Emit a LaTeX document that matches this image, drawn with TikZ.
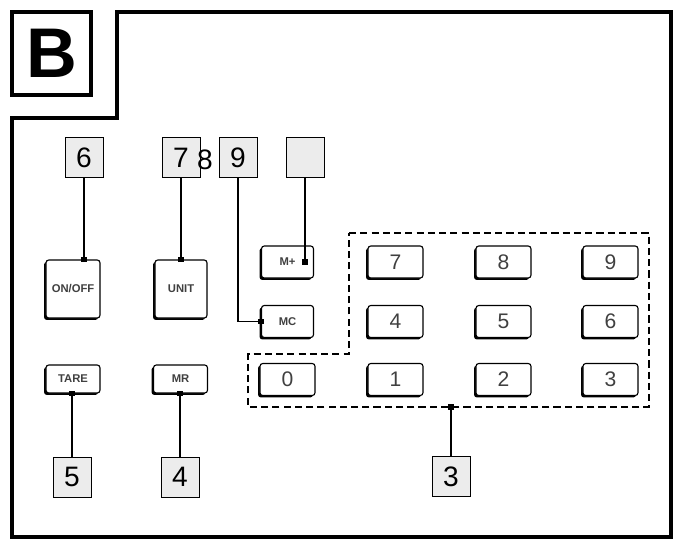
\documentclass[tikz,border=0pt]{standalone}
\usepackage{fontspec}
\setmainfont{Liberation Sans}
\usetikzlibrary{arrows.meta,shadows}

\begin{document}
\begin{tikzpicture}[x=0.025cm, y=-0.025cm,
  every node/.style={inner sep=0pt, font=\fontsize{8}{8}\selectfont\bfseries},
  lab/.style={draw, fill=gray!15, minimum width=0.95cm, minimum height=1cm, font=\fontsize{20}{20}\selectfont},
  btn/.style={draw, thick, fill=white, rounded corners=2pt, text=black!75,
    general shadow={fill=black, shadow xshift=-1.4pt, shadow yshift=-1.4pt}},
  key/.style={btn, minimum width=1.375cm, minimum height=0.8cm, font=\fontsize{15}{15}\selectfont},
  small/.style={btn, minimum width=1.3cm, minimum height=0.8cm},
  link/.style={thick, -{Square[length=4pt,width=4pt]}, shorten >=-2pt}
]
  \useasboundingbox (0,0) rectangle (678,542);

  % outer frame and tag
  \draw[line width=2.2pt] (12,118) -- (117,118) -- (117,12) -- (671,12) -- (671,537) -- (12,537) -- cycle;
  \node[draw, line width=2.2pt, minimum width=1.975cm, minimum height=2.075cm, font=\fontsize{50}{50}\selectfont\bfseries] (tag) at (51.5,53.5) {B};

  % function buttons
  \node[btn, minimum width=1.35cm, minimum height=1.45cm] (onoff) at (73,289) {ON/OFF};
  \node[btn, minimum width=1.3cm, minimum height=1.45cm] (unit) at (181,289) {UNIT};
  \node[btn, minimum width=1.35cm, minimum height=0.7cm] (tare) at (73,379) {TARE};
  \node[btn, minimum width=1.35cm, minimum height=0.7cm] (mr) at (180.5,379) {MR};
  \node[small] (mplus) at (287.5,262) {M+\hspace{9pt}};
  \node[small] (mc) at (287.5,321.5) {MC};
  \node[key] (k0) at (287.5,379.5) {0};

  % number keys
  \node[key] (k7) at (395.5,262) {7};
  \node[key] (k8) at (503.5,262) {8};
  \node[key] (k9) at (610.5,262) {9};
  \node[key] (k4) at (395.5,321.5) {4};
  \node[key] (k5) at (503.5,321.5) {5};
  \node[key] (k6) at (610.5,321.5) {6};
  \node[key] (k1) at (395.5,379.5) {1};
  \node[key] (k2) at (503.5,379.5) {2};
  \node[key] (k3) at (610.5,379.5) {3};

  % keypad group
  \draw[thick, dash pattern=on 5pt off 3pt] (349,233) -- (649,233) -- (649,407) -- (248,407) -- (248,354) -- (349,354) -- cycle;
  \coordinate (padlink) at (451,407);
  \coordinate (mpdot) at ([xshift=-0.21cm]mplus.east);

  % labels
  \node[lab] (l6) at (84,157.5) {6};
  \node[lab] (l7) at (181,157.5) {7};
  \node[font=\fontsize{20}{20}\selectfont] (l8) at (205,160) {8};
  \node[lab] (l9) at (238,157.5) {9};
  \node[lab] (lblank) at (305,157.5) {};
  \node[lab] (l5) at (72,477) {5};
  \node[lab] (l4) at (180,477) {4};
  \node[lab] (l3) at (451,476.5) {3};

  \draw[link] (l6.south) -- (l6.south |- onoff.north);
  \draw[link] (l7.south) -- (l7.south |- unit.north);
  \draw[link] (l9.south) |- (mc.west);
  \draw[link] (lblank.south) -- (lblank.south |- mpdot);
  \draw[link] (l5.north) -- (l5.north |- tare.south);
  \draw[link] (l4.north) -- (l4.north |- mr.south);
  \draw[link] (l3.north) -- (padlink);
\end{tikzpicture}
\end{document}
